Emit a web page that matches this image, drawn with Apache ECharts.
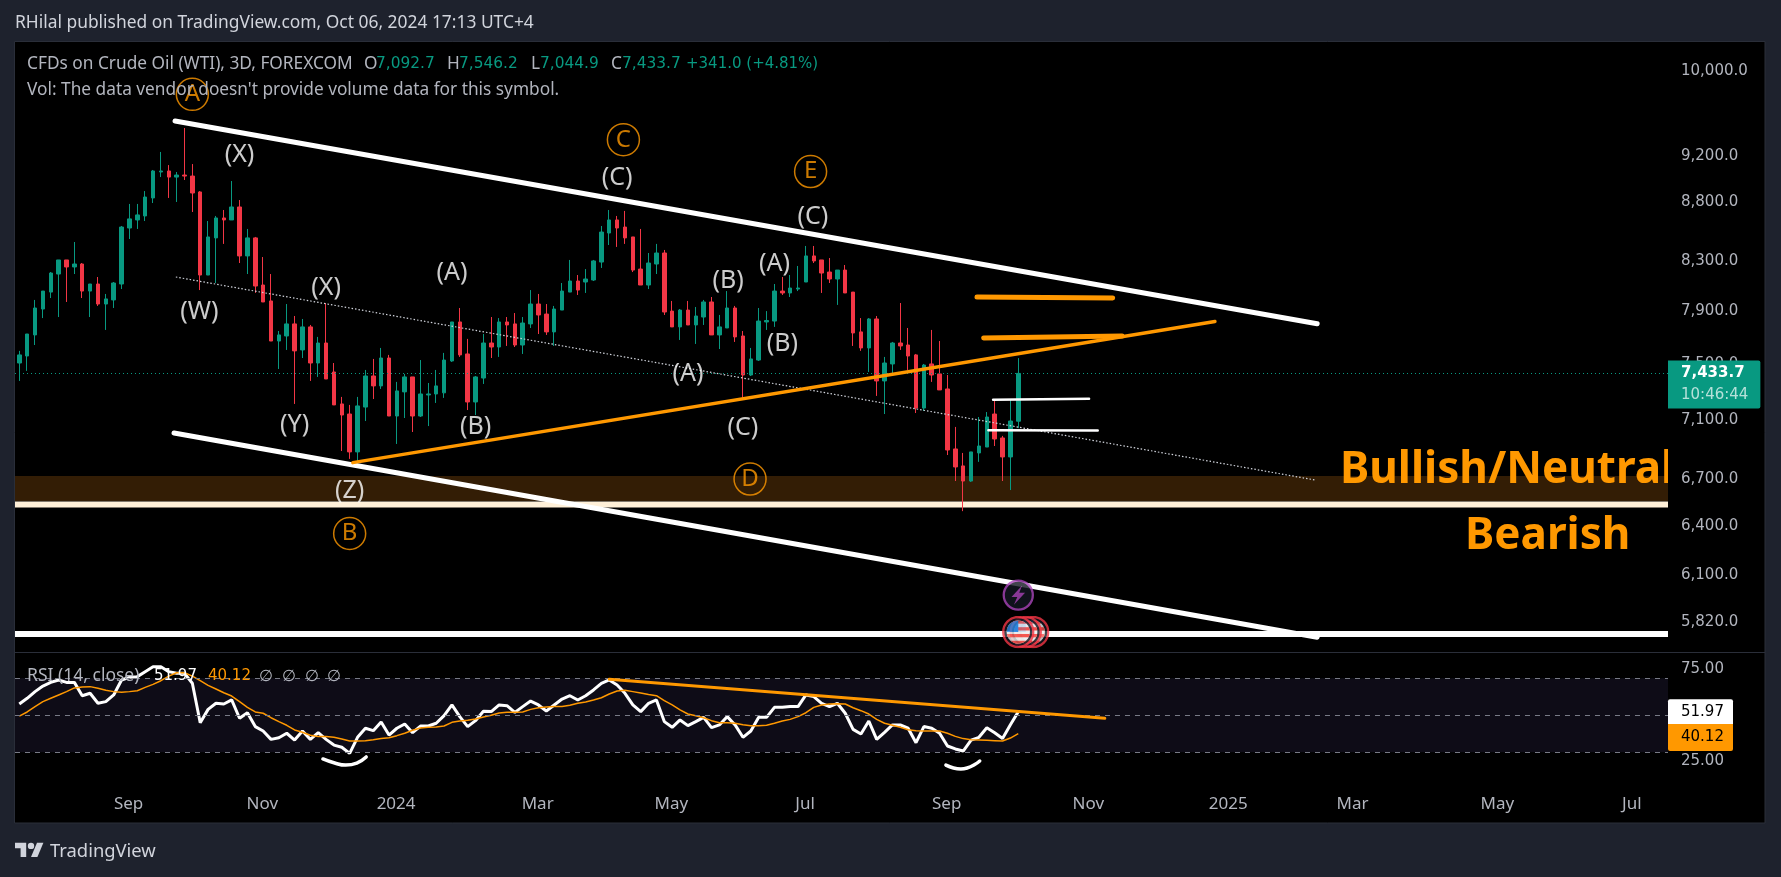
<!DOCTYPE html>
<html>
<head>
<meta charset="utf-8">
<title>CFDs on Crude Oil (WTI), 3D</title>
<script src="https://cdn.jsdelivr.net/npm/echarts@6/dist/echarts.min.js"></script>
<style>
  html, body { margin: 0; padding: 0; background: #1e222d; }
  #chart { width: 1781px; height: 877px; }
</style>
</head>
<body>
<div id="chart"></div>
<script>
// bar values, one entry per 3D bar
const opens = [7510,7562,7720,7919,8052,8196,8310,8253,8277,8060,8116,7958,7990,8116,8575,8643,8677,8832,9060,9069,9015,9033,9024,8884,8188,8492,8660,8643,8754,8343,8492,8108,7982,7674,7712,7804,7607,7781,7510,7659,7444,7214,7143,6882,7192,7415,7343,7547,7129,7300,7408,7129,7278,7285,7293,7525,7819,7577,7228,7400,7659,7629,7819,7804,7644,7804,7958,7880,7743,7911,8052,8140,8132,8148,8293,8533,8643,8583,8500,8236,8108,8277,8367,7903,7781,7911,7796,7857,7974,7720,7773,7927,7712,7422,7532,7819,7826,8060,8045,8076,8132,8343,8310,8212,8156,8228,8052,7743,7622,7842,7379,7503,7659,7644,7570,7185,7503,7430,7321,6902,6788,6688,6875,6915,7143,6977,6848,7092.7];
const highs = [7600,7727,7990,8060,8212,8310,8310,8458,8285,8116,8172,8037,8132,8592,8780,8780,8892,9078,9240,9122,9060,9460,9131,8892,8634,8677,8728,8980,8814,8567,8500,8334,8196,7750,7958,7865,7842,7796,7705,7966,7510,7264,7207,7264,7459,7540,7622,7570,7372,7430,7408,7532,7364,7459,7585,7819,7927,7690,7415,7727,7857,7849,7857,7888,7857,8068,8037,7958,7943,8124,8310,8188,8236,8310,8592,8728,8677,8720,8500,8567,8367,8442,8392,7982,7919,7982,7935,7990,8013,7873,8060,7943,7750,7622,7927,7903,8116,8172,8188,8261,8425,8425,8310,8326,8228,8269,8052,7849,7849,7865,7555,7667,7966,7773,7577,7503,7758,7674,7422,7053,6875,6882,7122,7157,7235,6991,7242,7546.2];
const lows = [7379,7452,7644,7849,8005,7857,7974,8196,8005,7857,7943,7758,7927,8076,8483,8567,8634,8788,9015,8832,8797,8989,8711,8068,8188,8124,8442,8643,8285,8196,8045,7974,7674,7466,7607,7214,7547,7379,7408,7393,7207,6888,6835,6788,7094,7249,7321,7129,6936,7115,7018,7122,7059,7221,7257,7518,7555,7171,7136,7357,7547,7555,7637,7629,7577,7773,7727,7720,7637,7911,8052,8029,8045,8140,8245,8433,8417,8442,8212,8108,8076,8196,7873,7781,7682,7796,7652,7796,7720,7614,7773,7667,7257,7415,7525,7758,7781,8029,8013,8060,8132,8285,8045,8124,7951,8045,7637,7600,7444,7271,7143,7422,7607,7459,7150,7164,7372,7314,6861,6688,6493,6682,6815,6915,6922,6688,6629,7044.9];
const closes = [7570,7727,7927,8060,8204,8310,8253,8277,8060,8116,7958,7998,8124,8583,8652,8686,8840,9069,9069,9015,9033,9024,8875,8188,8500,8660,8643,8754,8343,8492,8100,7974,7674,7720,7804,7600,7781,7510,7659,7393,7207,7136,6882,7200,7415,7343,7547,7129,7307,7408,7129,7285,7285,7343,7532,7819,7570,7228,7408,7659,7629,7819,7796,7644,7811,7958,7873,7743,7919,8060,8140,8068,8156,8302,8541,8643,8575,8492,8228,8108,8285,8367,7896,7781,7911,7796,7865,7974,7720,7781,7927,7705,7422,7540,7826,7830,8060,8045,8084,8084,8343,8302,8204,8156,8228,8045,7735,7622,7842,7379,7510,7659,7637,7562,7185,7495,7422,7314,6895,6781,6688,6882,6922,7122,6970,6848,7094,7433.7];

const rsiValues = [56.1,59.2,62.8,65.8,67.8,69.1,67.8,67.8,60.6,61.9,56.5,57.4,61.0,69.1,70.5,70.9,73.6,76.3,76.3,73.6,72.7,72.7,67.3,46.0,53.2,56.5,56.1,58.3,48.4,51.4,43.9,41.5,37.0,37.9,40.3,36.6,41.5,37.0,40.6,37.0,33.9,32.7,29.4,38.1,43.0,41.7,46.4,39.3,43.0,45.3,40.6,44.2,44.2,45.7,49.8,55.6,49.3,43.9,47.1,52.2,52.0,55.6,55.2,51.6,54.7,57.7,55.6,52.3,55.6,58.8,60.6,58.3,60.6,63.7,67.3,69.1,66.4,61.9,55.6,52.0,56.5,58.3,46.6,43.5,47.5,44.4,46.6,48.9,43.3,44.8,49.3,44.8,38.1,41.5,48.9,48.9,54.3,54.3,54.7,54.7,61.0,60.1,56.5,54.7,56.5,51.1,42.4,39.9,46.9,37.0,40.8,44.8,44.8,43.0,35.2,43.9,43.0,40.3,33.4,31.8,30.7,36.6,38.1,43.3,40.6,37.5,44.9,51.97];
const rsiAverage = [49.6,51.8,54.7,57.4,59.2,61.0,62.8,64.8,65.3,65.5,64.6,63.5,62.8,62.4,62.8,63.3,65.1,66.7,68.7,71.2,73.0,73.0,71.2,68.7,66.2,64.2,62.2,60.4,57.4,54.3,51.8,51.1,48.7,46.6,44.6,42.1,40.8,39.2,38.6,38.5,38.1,37.2,36.1,36.1,36.3,36.8,37.4,37.9,39.0,40.3,41.9,43.1,43.5,43.7,44.2,46.2,46.9,47.3,48.0,49.1,50.0,51.2,51.6,51.6,51.8,53.2,54.1,54.5,54.8,54.8,55.4,56.5,57.2,58.3,59.5,61.5,63.1,63.5,62.8,62.1,61.3,60.6,57.9,55.6,52.9,50.7,49.8,48.7,47.1,46.0,46.0,45.7,44.9,44.4,44.4,44.6,45.7,46.9,47.8,49.3,51.4,54.3,55.6,56.1,56.3,56.1,54.1,52.5,50.7,47.8,45.7,44.6,43.5,42.2,41.7,41.5,41.5,41.5,40.3,38.6,37.4,36.8,36.7,36.5,36.3,36.1,37.7,40.12];

// price axis: tick prices, bar axis: month ticks as bar positions
const priceTicks = [5820,6100,6400,6700,7100,7500,7900,8300,8800,9200,10000];
const rsiTicks = [25,75];
const monthBars = [13.9,30.9,47.9,65.9,82.9,99.9,117.9,135.9,153.7,169.5,187.9,205];
const monthLabels = ["Sep","Nov","2024","Mar","May","Jul","Sep","Nov","2025","Mar","May","Jul"];

// drawn trend lines, as [bar, price] ends
const channelTop = [[19.8,9525],[165,7805]];
const channelBottom = [[19.67,7011],[165,5737]];
const midDotted = [[19.9,8172],[164.7,6695]];
const risingOrange = [[42.4,6810],[152,7822]];
const targetOrangeHigh = [[121.75,8013],[139,8005]];
const targetOrangeLow = [[122.6,7697],[140.2,7712]];
const shortWhiteHigh = [[123.8,7244],[136,7251]];
const shortWhiteLow = [[123.2,7030],[137.1,7029]];
const zoneTop = 6721, zoneBottom = 6558, zoneLine = 6536, lowerLine = 5755;
const lastPrice = 7433.7;

const rsiTrend = [[75,69.46],[138,48.4]];
const rsiArcLeft = [[38.6,26.4],[40.1,24.2],[41.5,23.1],[42.9,24.2],[44.1,27.5]];
const rsiArcRight = [[117.8,23.1],[119.7,21],[122.1,25.3]];

// elliott wave labels
const waveNames = ["(X)","(W)","(X)","(Y)","(Z)","(A)","(B)","(C)","(B)","(A)","(C)","(B)","(A)","(C)"];
const waveBars = [28,22.9,39,35,42,55,58,76,90.1,96,100.9,97,85,92];
const wavePrices = [9213,7896,8084,7066,6625,8204,7055,9005,8142,8282,8670,7652,7428,7044];
const circleNames = ["A","B","C","D","E"];
const circleBars = [22,42,76.8,92.9,100.6];
const circlePrices = [9778,6352,9352,6701,9064];

const flagBars = [128.9,127.95,127];
const flagPrice = 5766;
const boltBar = 127;
const boltPrice = 5979;

const UP = "#089981", DOWN = "#f23645", ORANGE = "#ff9800", GREY = "#b2b5be";
const FONT = "'Noto Sans'";
const NUM_FONT = "'DejaVu Sans'";
const BAR_MIN = -0.547, BAR_MAX = 209.6;

const candleRows = opens.map((o, i) => [i, o, closes[i], lows[i], highs[i]]);
const rsiRows = rsiValues.map((v, i) => [i, v]);
const rsiAvgRows = rsiAverage.map((v, i) => [i, v]);

function svgIcon(body) {
  return "image://data:image/svg+xml;utf8," + encodeURIComponent('<svg xmlns="http://www.w3.org/2000/svg" width="34" height="34" viewBox="0 0 34 34">' + body + "</svg>");
}
const flagIcon = svgIcon('<defs><clipPath id="c"><circle cx="17" cy="17" r="12"/></clipPath></defs>' +
  '<circle cx="17" cy="17" r="15.5" fill="#131722" stroke="#f23645" stroke-width="2.4"/>' +
  '<g clip-path="url(#c)"><rect width="34" height="34" fill="#f0f0f0"/>' +
  '<rect x="5" y="5" width="24" height="3.4" fill="#f4564f"/><rect x="5" y="12" width="24" height="3.4" fill="#f4564f"/>' +
  '<rect x="5" y="19" width="24" height="3.4" fill="#f4564f"/><rect x="5" y="26" width="24" height="3.4" fill="#f4564f"/>' +
  '<rect x="5" y="5" width="12" height="12" fill="#2e8be6"/></g>');
const boltIcon = svgIcon('<circle cx="17" cy="17" r="15" fill="#131722" stroke="#ab47bc" stroke-width="2.4"/>' +
  '<path d="M21 7 L10 19 L16 19 L12.5 27 L24 14.5 L18 14.5 Z" fill="#ab47bc"/>');

function trendLine(points, color, width, extra) {
  return Object.assign({
    type: "line",
    data: points,
    showSymbol: false,
    silent: true,
    z: 5,
    lineStyle: { color: color, width: width, cap: "round" },
  }, extra || {});
}
function text(x, y, str, fill, font) {
  return {
    type: "text",
    x: x,
    y: y,
    silent: true,
    z: 20,
    style: { text: str, fill: fill, font: font, verticalAlign: "middle" },
  };
}
const legendFont = "17.3px " + FONT;
const legendNum = "15.4px " + NUM_FONT;
const zoneFont = "bold 44px " + FONT;

var chart = echarts.init(document.getElementById("chart"));
var option = {
  animation: false,
  backgroundColor: "#1e222d",
  textStyle: { fontFamily: NUM_FONT },
  grid: [
    { left: 15, top: 42, width: 1653, height: 610 },
    { left: 15, top: 653, width: 1653, height: 137 },
  ],
  xAxis: [
    { type: "value", gridIndex: 0, min: BAR_MIN, max: BAR_MAX, axisLine: { show: false }, axisTick: { show: false }, axisLabel: { show: false }, splitLine: { show: false } },
    {
      type: "value",
      gridIndex: 1,
      min: BAR_MIN,
      max: BAR_MAX,
      axisLine: { show: false },
      axisTick: { show: false },
      splitLine: { show: false },
      axisLabel: {
        customValues: monthBars,
        color: GREY,
        fontFamily: FONT,
        fontSize: 17,
        margin: 6,
        hideOverlap: false,
        showMinLabel: true,
        showMaxLabel: true,
        formatter: (v) => monthLabels[monthBars.indexOf(v)] || "",
      },
    },
  ],
  yAxis: [
    {
      type: "log",
      logBase: 10,
      gridIndex: 0,
      position: "right",
      min: 5654,
      max: 10294,
      axisLine: { show: false },
      axisTick: { show: false },
      splitLine: { show: false },
      axisLabel: {
        customValues: priceTicks,
        color: GREY,
        fontSize: 15,
        margin: 13,
        align: "left",
        padding: [3, 0, 0, 0],
        formatter: (v) => Number(v).toLocaleString("en-US", { minimumFractionDigits: 1 }),
      },
    },
    {
      type: "value",
      gridIndex: 1,
      position: "right",
      min: 9.62,
      max: 83.68,
      axisLine: { show: false },
      axisTick: { show: false },
      splitLine: { show: false },
      axisLabel: {
        customValues: rsiTicks,
        color: GREY,
        fontSize: 15,
        margin: 13,
        align: "left",
        padding: [6, 0, 0, 0],
        formatter: (v) => Number(v).toFixed(2),
      },
    },
  ],
  series: [
    // zone band and the two long horizontals sit under the candles
    trendLine([[BAR_MIN, zoneLine], [BAR_MAX, zoneLine]], "#fff0d8", 6, {
      z: 1,
      lineStyle: { color: "#fff0d8", width: 6, cap: "butt" },
      markArea: { silent: true, itemStyle: { color: "#331d05" }, data: [[{ coord: [BAR_MIN, zoneTop] }, { coord: [BAR_MAX, zoneBottom] }]] },
    }),
    trendLine([[BAR_MIN, lowerLine], [BAR_MAX, lowerLine]], "#ffffff", 6, { z: 1, lineStyle: { color: "#ffffff", width: 6, cap: "butt" } }),
    {
      type: "candlestick",
      data: candleRows,
      barWidth: 4,
      z: 3,
      silent: true,
      itemStyle: { color: UP, color0: DOWN, borderColor: UP, borderColor0: DOWN, borderWidth: 1 },
      markLine: {
        silent: true,
        symbol: "none",
        animation: false,
        lineStyle: { color: UP, type: [1, 3], width: 1 },
        data: [{
          yAxis: lastPrice,
          label: {
            position: "end",
            distance: 0,
            offset: [0, 11],
            formatter: "{p|7,433.7}\n{t|10:46:44}",
            backgroundColor: UP,
            borderRadius: [0, 2, 2, 0],
            padding: [2, 12, 2, 13],
            rich: {
              p: { color: "#ffffff", fontSize: 15, fontWeight: "bold", lineHeight: 22 },
              t: { color: "rgba(255,255,255,0.7)", fontSize: 15, lineHeight: 22 },
            },
          },
        }],
      },
    },
    trendLine(midDotted, "#d1d4dc", 1, { lineStyle: { color: "#d1d4dc", width: 1.2, type: [1.5, 2] } }),
    trendLine(channelTop, "#ffffff", 5),
    trendLine(channelBottom, "#ffffff", 5),
    trendLine(risingOrange, ORANGE, 3.5),
    trendLine(targetOrangeHigh, ORANGE, 5),
    trendLine(targetOrangeLow, ORANGE, 5),
    trendLine(shortWhiteHigh, "#ffffff", 2.5),
    trendLine(shortWhiteLow, "#ffffff", 2.5),
    {
      type: "scatter",
      data: waveBars.map((b, i) => ({ value: [b, wavePrices[i]], name: waveNames[i] })),
      symbolSize: 1,
      itemStyle: { color: "transparent" },
      silent: true,
      z: 6,
      label: { show: true, position: "inside", formatter: "{b}", color: "#ffffff", fontFamily: FONT, fontSize: 25 },
    },
    {
      type: "scatter",
      data: circleBars.map((b, i) => ({ value: [b, circlePrices[i]], name: circleNames[i] })),
      symbolSize: 32,
      itemStyle: { color: "transparent", borderColor: ORANGE, borderWidth: 1.5 },
      silent: true,
      z: 6,
      label: { show: true, position: "inside", formatter: "{b}", color: ORANGE, fontFamily: FONT, fontSize: 24 },
    },
    {
      type: "scatter",
      data: flagBars.map((b) => [b, flagPrice]),
      symbol: flagIcon,
      symbolSize: 33,
      silent: true,
      z: 7,
    },
    {
      type: "scatter",
      data: [[boltBar, boltPrice]],
      symbol: boltIcon,
      symbolSize: 33,
      silent: true,
      z: 7,
    },
    {
      type: "line",
      xAxisIndex: 1,
      yAxisIndex: 1,
      data: rsiRows,
      showSymbol: false,
      silent: true,
      z: 4,
      lineStyle: { color: "#ffffff", width: 3 },
      markArea: { silent: true, itemStyle: { color: "#0e0c17" }, data: [[{ coord: [BAR_MIN, 70] }, { coord: [BAR_MAX, 30] }]] },
      markLine: {
        silent: true,
        symbol: "none",
        lineStyle: { color: "#787b86", type: [5, 5], width: 1 },
        data: [
          { yAxis: 70, label: { show: false } },
          { yAxis: 50, label: { show: false } },
          { yAxis: 30, label: { show: false } },
          {
            yAxis: 51.97,
            lineStyle: { color: "transparent" },
            label: {
              show: true, position: "end", distance: 0, formatter: "51.97", color: "#000000", fontSize: 15,
              backgroundColor: "#ffffff", width: 52, height: 25, lineHeight: 25, padding: [0, 0, 0, 13], borderRadius: [2, 2, 0, 0],
            },
          },
          {
            yAxis: 40.12,
            lineStyle: { color: "transparent" },
            label: {
              show: true, position: "end", distance: 0, offset: [0, 4], formatter: "40.12", color: "#000000", fontSize: 15,
              backgroundColor: ORANGE, width: 52, height: 27, lineHeight: 27, padding: [0, 0, 0, 13], borderRadius: [0, 0, 2, 2],
            },
          },
        ],
      },
    },
    {
      type: "line",
      xAxisIndex: 1,
      yAxisIndex: 1,
      data: rsiAvgRows,
      showSymbol: false,
      silent: true,
      z: 4,
      lineStyle: { color: ORANGE, width: 1.5 },
    },
    trendLine(rsiTrend, ORANGE, 3, { xAxisIndex: 1, yAxisIndex: 1 }),
    trendLine(rsiArcLeft, "#ffffff", 3.5, { xAxisIndex: 1, yAxisIndex: 1, smooth: true }),
    trendLine(rsiArcRight, "#ffffff", 3.5, { xAxisIndex: 1, yAxisIndex: 1, smooth: true }),
  ],
  graphic: [
    { type: "rect", silent: true, z: -1, shape: { x: 14.5, y: 41.5, width: 1750.5, height: 781.5 }, style: { fill: "#000000", stroke: "#2a2e39", lineWidth: 1 } },
    { type: "rect", silent: true, z: 19, shape: { x: 15, y: 652, width: 1750, height: 1 }, style: { fill: "#2a2e39" } },
    text(15, 23, "RHilal published on TradingView.com, Oct 06, 2024 17:13 UTC+4", "#d1d4dc", "17.4px " + FONT),
    text(27, 64, "CFDs on Crude Oil (WTI), 3D, FOREXCOM", GREY, legendFont),
    text(364, 64, "O", GREY, legendFont), text(376, 64, "7,092.7", UP, legendNum),
    text(447, 64, "H", GREY, legendFont), text(459, 64, "7,546.2", UP, legendNum),
    text(531, 64, "L", GREY, legendFont), text(540, 64, "7,044.9", UP, legendNum),
    text(611, 64, "C", GREY, legendFont), text(622, 64, "7,433.7", UP, legendNum),
    text(686, 64, "+341.0 (+4.81%)", UP, "15px " + NUM_FONT),
    text(27, 90, "Vol: The data vendor doesn't provide volume data for this symbol.", GREY, legendFont),
    text(27, 676, "RSI (14, close)", GREY, "17.5px " + FONT),
    text(154, 676, "51.97", "#ffffff", "15px " + NUM_FONT), text(208, 676, "40.12", ORANGE, "15px " + NUM_FONT),
    text(259, 676, "\u2205", GREY, "16px " + FONT), text(282, 676, "\u2205", GREY, "16px " + FONT), text(305, 676, "\u2205", GREY, "16px " + FONT), text(327, 676, "\u2205", GREY, "16px " + FONT),
    text(1340, 470, "Bullish/Neutral", ORANGE, zoneFont),
    text(1465, 536, "Bearish", ORANGE, zoneFont),
    // the big label runs under the price scale edge in the source
    { type: "rect", silent: true, z: 21, shape: { x: 1668, y: 440, width: 11, height: 60 }, style: { fill: "#000000" } },
    { type: "polygon", silent: true, z: 20, x: 15, y: 839.5, scaleX: 0.8, scaleY: 0.8, shape: { points: [[0, 4], [14, 4], [14, 22], [7, 22], [7, 11], [0, 11]] }, style: { fill: "#d1d4dc" } },
    { type: "polygon", silent: true, z: 20, x: 15, y: 839.5, scaleX: 0.8, scaleY: 0.8, shape: { points: [[20, 22], [27.5, 4], [35.5, 4], [28, 22]] }, style: { fill: "#d1d4dc" } },
    { type: "circle", silent: true, z: 20, x: 15, y: 839.5, scaleX: 0.8, scaleY: 0.8, shape: { cx: 20, cy: 8, r: 4 }, style: { fill: "#d1d4dc" } },
    text(50, 852, "TradingView", "#d1d4dc", "18.4px " + FONT),
  ],
};
chart.setOption(option);
</script>
</body>
</html>
